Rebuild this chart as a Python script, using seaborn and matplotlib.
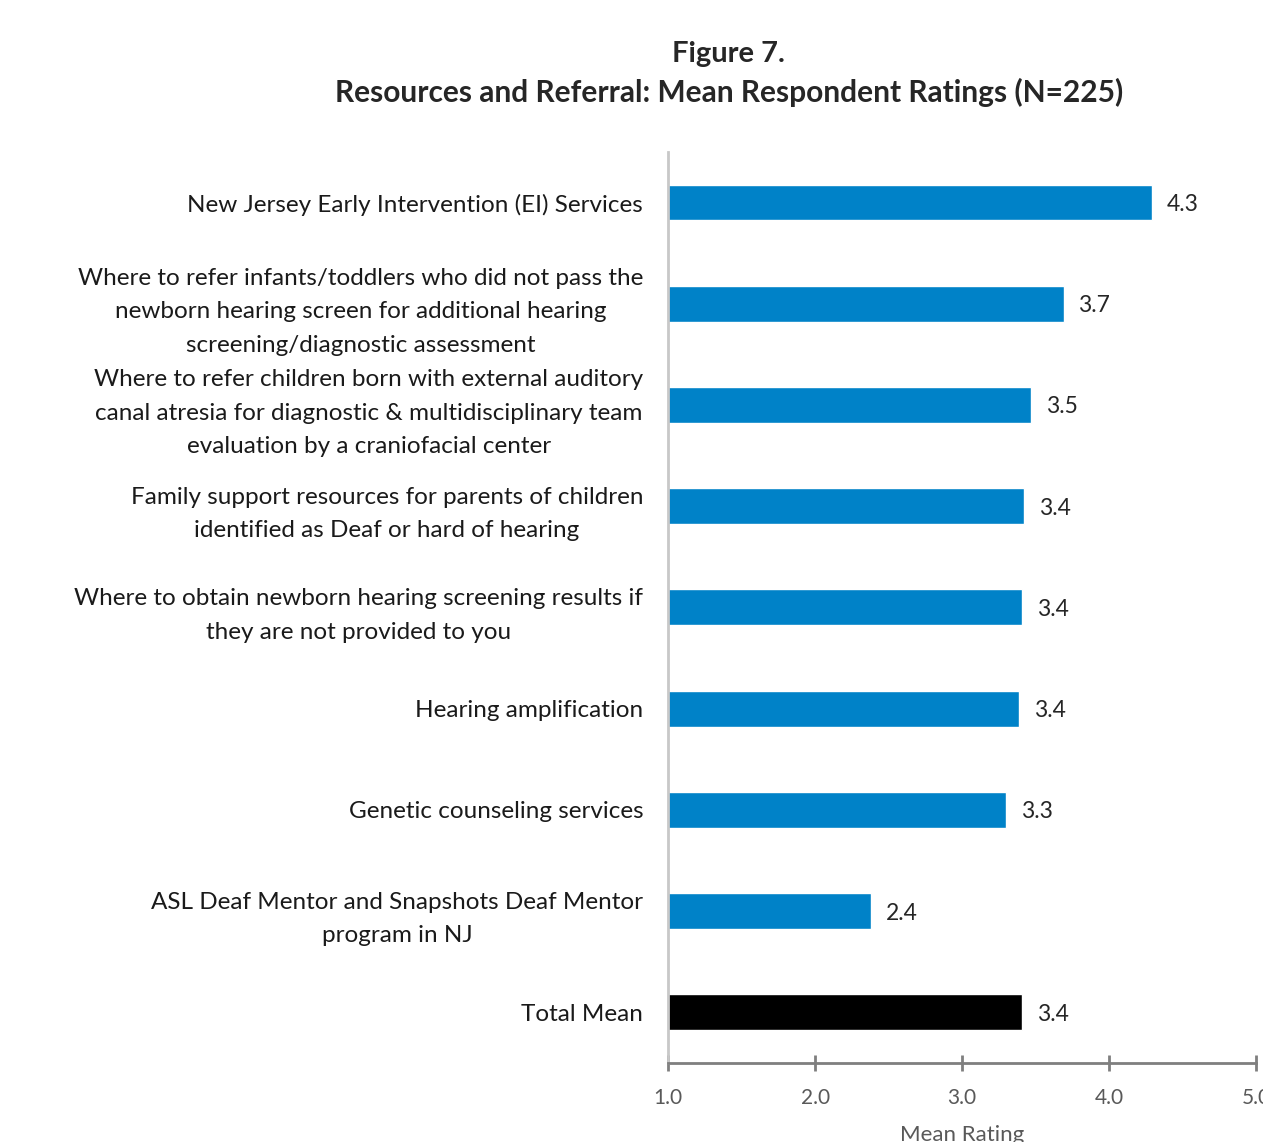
import seaborn as sns
import numpy as np
import pandas as pd
import matplotlib.pyplot as plt

categories = [
    "New Jersey Early Intervention (EI) Services",
    "Where to refer infants/toddlers who did not pass the\nnewborn hearing screen for additional hearing\nscreening/diagnostic assessment",
    "Where to refer children born with external auditory\ncanal atresia for diagnostic & multidisciplinary team\nevaluation by a craniofacial center",
    "Family support resources for parents of children\nidentified as Deaf or hard of hearing",
    "Where to obtain newborn hearing screening results if\nthey are not provided to you",
    "Hearing amplification",
    "Genetic counseling services",
    "ASL Deaf Mentor and Snapshots Deaf Mentor\nprogram in NJ",
    "Total Mean",
]
ratings = [4.29, 3.69, 3.47, 3.42, 3.41, 3.39, 3.30, 2.38, 3.41]
colors = ["#0082C8"] * 8 + ["#000000"]

df = pd.DataFrame({"item": categories, "rating": ratings})

sns.set_style("white")
plt.rcParams['font.family'] = ['Lato', 'DejaVu Sans']

fig = plt.figure(figsize=(12.63, 11.42), dpi=100)
ax = fig.add_axes([0.529, 0.0692, 0.4655, 0.7978])

# bars are clipped at the axis origin 1.0
sns.barplot(data=df, x="rating", y="item", hue="item", palette=colors,
            legend=False, width=0.355, ax=ax, saturation=1)
ax.set_yticks(np.arange(len(categories)))
ax.set_yticklabels(categories, fontsize=17.5, color="#1a1a1a", linespacing=1.72)
for lab in ax.get_yticklabels():
    lab.set_multialignment("center")
ax.set_ylim(len(categories) - 0.5, -0.5)
ax.set_xlim(1.0, 5.0)
ax.set_xticks([1, 2, 3, 4, 5])
ax.set_xticklabels(["1.0", "2.0", "3.0", "4.0", "5.0"], fontsize=15, color="#595959")
ax.set_xlabel("Mean Rating", fontsize=16, color="#595959", labelpad=12)
ax.set_ylabel("")

for i, v in enumerate(ratings):
    ax.text(v + 0.1, i, f"{v:.1f}", va="center_baseline", ha="left", fontsize=16.5, color="#262626")

for s in ["top", "right"]:
    ax.spines[s].set_visible(False)
ax.spines["left"].set_color("#c8c8c8")
ax.spines["left"].set_linewidth(2)
ax.spines["bottom"].set_color("#7f7f7f")
ax.spines["bottom"].set_linewidth(2)
ax.tick_params(axis="x", bottom=True, direction="inout", length=12, width=2, color="#7f7f7f", pad=12)
ax.tick_params(axis="y", left=False, length=0, pad=18)

fig.text(0.577, 0.953, "Figure 7.", ha="center", va="center", fontsize=21, fontweight="bold")
fig.text(0.577, 0.919, "Resources and Referral: Mean Respondent Ratings (N=225)",
         ha="center", va="center", fontsize=21.5, fontweight="bold")

fig.savefig("out.png", dpi=100)
